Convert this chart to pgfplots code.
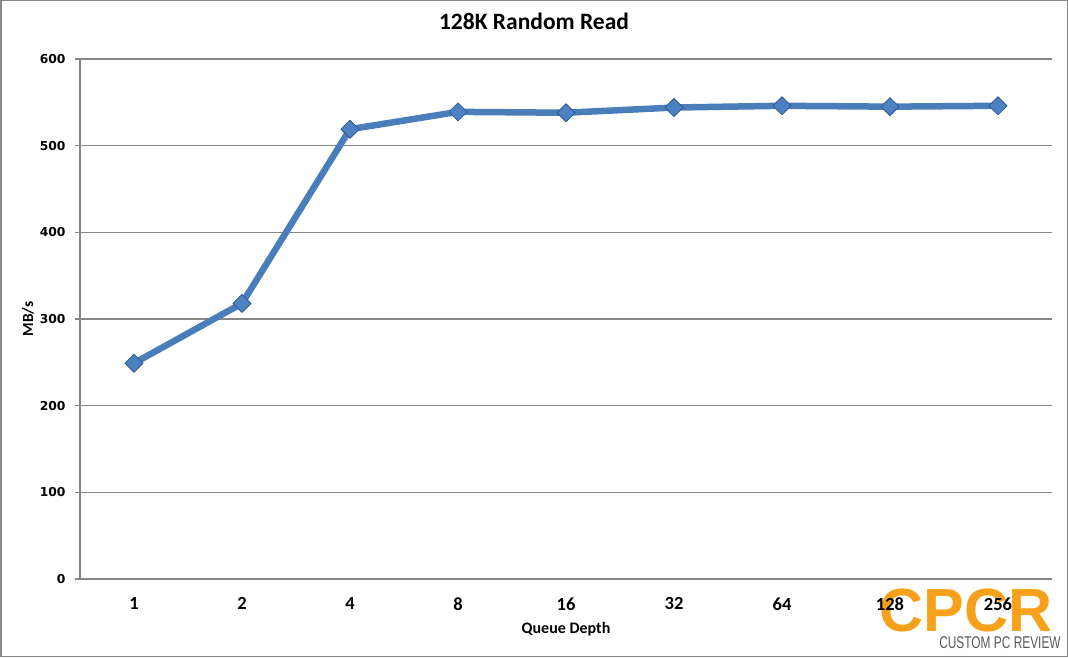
\documentclass[border=0pt]{standalone}
\usepackage{fontspec}
\setmainfont{Carlito}
\newfontfamily\dejavu{DejaVu Sans}
\newfontfamily\libsans{Liberation Sans}
\usepackage{pgfplots}
\pgfplotsset{compat=1.18}
\definecolor{gridgray}{RGB}{134,134,134}
\definecolor{seriesline}{RGB}{74,126,187}
\definecolor{markfill}{RGB}{76,129,194}
\definecolor{markedge}{RGB}{47,88,142}
\definecolor{logoorange}{RGB}{247,161,26}
\definecolor{logogray}{RGB}{90,90,90}
\begin{document}
\begin{tikzpicture}
\useasboundingbox (0,0) rectangle (1068pt,657pt);
\draw[gridgray, line width=1.5pt] (0.75pt,0.75pt) rectangle (1067.25pt,656.25pt);
\node[text=logoorange, font=\libsans\bfseries\fontsize{61}{61}\selectfont, inner sep=0pt, anchor=center] at (966pt,47pt) {CPCR};
\node[text=logogray, font=\libsans\fontsize{17}{17}\selectfont, inner sep=0pt, xscale=0.7] at (1000pt,14.5pt) {CUSTOM PC REVIEW};
\begin{axis}[
  scale only axis, width=972pt, height=520pt,
  at={(80pt,78pt)}, anchor=south west,
  xmin=-0.5, xmax=8.5, ymin=0, ymax=600,
  xtick={0,...,8}, xticklabels={1,2,4,8,16,32,64,128,256},
  ytick={0,100,...,600},
  axis x line*=bottom, axis y line*=left,
  axis line style={gridgray, line width=1.3pt, -},
  ymajorgrids, grid style={gridgray, line width=1.3pt},
  tick align=outside, major tick length=5pt,
  xtick style={draw=none},
  ytick style={gridgray, line width=1.3pt},
  /pgf/number format/assume math mode=true,
  xticklabel style={font=\bfseries\fontsize{18.5}{20}\selectfont, yshift=-10pt},
  yticklabel style={font=\dejavu\bfseries\fontsize{12.3}{13}\selectfont, xshift=-6pt},
  title={128K Random Read},
  title style={font=\bfseries\fontsize{23.5}{25}\selectfont, at={(axis description cs:0.5,1)}, anchor=center, xshift=-32pt, yshift=31.5pt},
  xlabel={Queue Depth},
  xlabel style={font=\bfseries\fontsize{16}{18}\selectfont, at={(axis description cs:0.5,0)}, anchor=center, yshift=-50pt},
  ylabel={MB/s},
  ylabel style={font=\bfseries\fontsize{15.5}{17}\selectfont, at={(axis description cs:-0.0535,0.5)}, anchor=center},
  clip=false,
]
\addplot[seriesline, line width=6.5pt, line join=round,
  mark=square*, mark size=6.4pt,
  mark options={rotate=45, fill=markfill, draw=markedge, line width=0.8pt}]
  coordinates {(0,249) (1,318) (2,519) (3,539) (4,538) (5,544) (6,546) (7,545) (8,546)};
\end{axis}
\end{tikzpicture}
\end{document}
